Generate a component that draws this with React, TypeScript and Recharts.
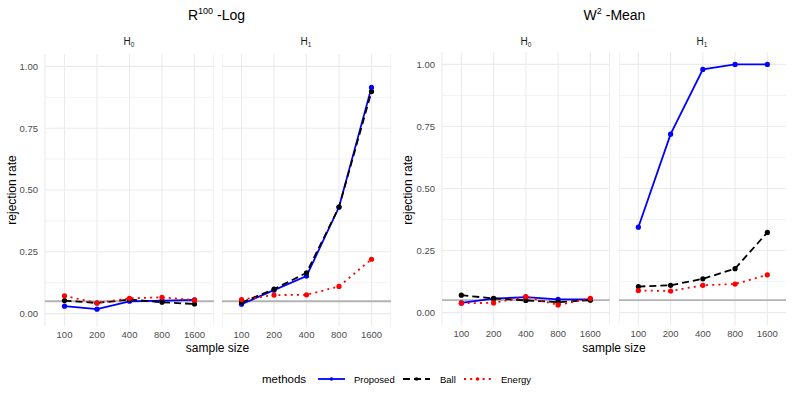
import { LineChart, Line, XAxis, YAxis, CartesianGrid, ReferenceLine } from 'recharts'

const sampleSizes = ['100', '200', '400', '800', '1600']
const yTicks = [0, 0.25, 0.5, 0.75, 1]
const yMinor = [0.125, 0.375, 0.625, 0.875]
const alphaLevel = 0.05

// R^100 - Log
const logH0Proposed = [0.03, 0.018, 0.05, 0.053, 0.056]
const logH0Ball = [0.053, 0.043, 0.057, 0.046, 0.039]
const logH0Energy = [0.072, 0.043, 0.062, 0.066, 0.055]
const logH1Proposed = [0.038, 0.095, 0.152, 0.431, 0.915]
const logH1Ball = [0.045, 0.099, 0.165, 0.431, 0.898]
const logH1Energy = [0.057, 0.075, 0.076, 0.11, 0.22]

// W^2 - Mean
const meanH0Proposed = [0.039, 0.056, 0.062, 0.053, 0.053]
const meanH0Ball = [0.07, 0.057, 0.049, 0.042, 0.05]
const meanH0Energy = [0.038, 0.039, 0.064, 0.031, 0.057]
const meanH1Proposed = [0.344, 0.719, 0.98, 1.0, 1.0]
const meanH1Ball = [0.105, 0.11, 0.136, 0.177, 0.323]
const meanH1Energy = [0.089, 0.087, 0.11, 0.115, 0.152]

const series = [
  { key: 'Proposed', color: '#0000ff', dash: undefined as string | undefined },
  { key: 'Ball', color: '#000000', dash: '7 4' },
  { key: 'Energy', color: '#ff0000', dash: '2 4.2' },
]

const FONT = '"Liberation Sans", Arial, sans-serif'
const Y_W = 40
const X_H = 22

const rows = (p: number[], b: number[], e: number[]) =>
  sampleSizes.map((size, i) => ({ size, Proposed: p[i], Ball: b[i], Energy: e[i] }))

interface FacetProps {
  data: any[]
  left: number
  top: number
  width: number
  height: number
  showY?: boolean
}

function Facet({ data, left, top, width, height, showY }: FacetProps) {
  const pad = (width * 0.6) / 5.2
  return (
    <div style={{ position: 'absolute', left: left - (showY ? Y_W : 0), top }}>
      <LineChart
        width={width + (showY ? Y_W : 0)}
        height={height + X_H}
        data={data}
        margin={{ top: 0, right: 0, bottom: 0, left: 0 }}
      >
        <CartesianGrid horizontalValues={yMinor} vertical={false} stroke="#ebebeb" strokeWidth={0.6} />
        <CartesianGrid horizontalValues={yTicks} stroke="#ebebeb" strokeWidth={1.1} />
        <XAxis
          dataKey="size"
          type="category"
          padding={{ left: pad, right: pad }}
          height={X_H}
          tickLine={false}
          axisLine={false}
          tickSize={2}
          tickMargin={3}
          interval={0}
          tick={{ fill: '#4d4d4d', fontSize: 9.5, fontFamily: FONT }}
        />
        <YAxis
          hide={!showY}
          type="number"
          domain={[-0.05, 1.05]}
          ticks={yTicks}
          width={Y_W}
          tickLine={false}
          axisLine={false}
          tickSize={4}
          tickMargin={3}
          tickFormatter={v => v.toFixed(2)}
          tick={{ fill: '#4d4d4d', fontSize: 9.5, fontFamily: FONT }}
        />
        <ReferenceLine y={alphaLevel} stroke="#b3b3b3" strokeWidth={1.8} />
        {series.map(s => (
          <Line
            key={s.key + '-line'}
            dataKey={s.key}
            stroke={s.color}
            strokeWidth={1.8}
            strokeDasharray={s.dash}
            dot={false}
            activeDot={false}
            isAnimationActive={false}
          />
        ))}
        {series.map(s => (
          <Line
            key={s.key + '-pts'}
            dataKey={s.key}
            stroke="none"
            dot={{ r: 2.6, fill: s.color, stroke: 'none' }}
            activeDot={false}
            isAnimationActive={false}
          />
        ))}
      </LineChart>
    </div>
  )
}

function Labels() {
  const keyY = 379
  const keys = [
    { name: 'Proposed', x: 318, tx: 354 },
    { name: 'Ball', x: 403, tx: 440 },
    { name: 'Energy', x: 464, tx: 501 },
  ]
  return (
    <svg width={793} height={397} style={{ position: 'absolute', left: 0, top: 0, pointerEvents: 'none' }} fontFamily={FONT}>
      <text x={216.5} y={20} textAnchor="middle" fontSize={14} fill="#000">
        R<tspan fontSize={9} dy={-6}>100</tspan>
        <tspan dy={6}> -Log</tspan>
      </text>
      <text x={614.5} y={20} textAnchor="middle" fontSize={14} fill="#000">
        W<tspan fontSize={9} dy={-6}>2</tspan>
        <tspan dy={6}> -Mean</tspan>
      </text>
      {[
        { x: 129, s: '0' },
        { x: 306, s: '1' },
        { x: 526, s: '0' },
        { x: 702, s: '1' },
      ].map((h, i) => (
        <text key={i} x={h.x} y={45} textAnchor="middle" fontSize={10} fill="#1a1a1a">
          H<tspan fontSize={6.5} dy={2}>{h.s}</tspan>
        </text>
      ))}
      <text x={217.5} y={352} textAnchor="middle" fontSize={12} fill="#000">sample size</text>
      <text x={614} y={352} textAnchor="middle" fontSize={12} fill="#000">sample size</text>
      <text transform="translate(16,190) rotate(-90)" textAnchor="middle" fontSize={12} fill="#000">rejection rate</text>
      <text transform="translate(412,190) rotate(-90)" textAnchor="middle" fontSize={12} fill="#000">rejection rate</text>
      <text x={262} y={383} fontSize={11.5} fill="#000">methods</text>
      {keys.map((k, i) => (
        <g key={k.name}>
          <line
            x1={k.x}
            x2={k.x + 27}
            y1={keyY}
            y2={keyY}
            stroke={series[i].color}
            strokeWidth={1.8}
            strokeDasharray={series[i].dash}
          />
          <circle cx={k.x + 13.5} cy={keyY} r={1.8} fill={series[i].color} />
          <text x={k.tx} y={keyY + 3.5} fontSize={9.5} fill="#000">{k.name}</text>
        </g>
      ))}
    </svg>
  )
}

export default function App() {
  return (
    <div style={{ position: 'absolute', left: 0, top: 0, width: 793, height: 397, background: '#fff', fontFamily: FONT }}>
      <Facet data={rows(logH0Proposed, logH0Ball, logH0Energy)} left={44.5} top={54} width={169} height={272} showY />
      <Facet data={rows(logH1Proposed, logH1Ball, logH1Energy)} left={221.5} top={54} width={169} height={272} />
      <Facet data={rows(meanH0Proposed, meanH0Ball, meanH0Energy)} left={442} top={52} width={167.7} height={273} showY />
      <Facet data={rows(meanH1Proposed, meanH1Ball, meanH1Energy)} left={618.6} top={52} width={167.7} height={273} />
      <Labels />
    </div>
  )
}
